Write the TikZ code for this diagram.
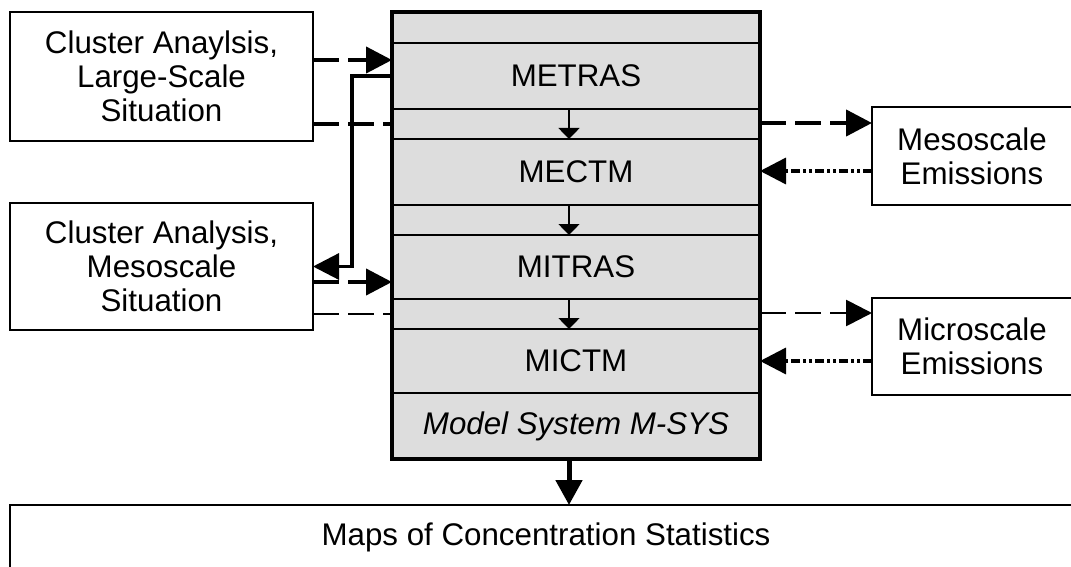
\documentclass[tikz,border=0pt]{standalone}
\usepackage{fontspec}
\setmainfont{Liberation Sans}
\usetikzlibrary{arrows.meta}
\definecolor{boxgray}{RGB}{221,221,221}
\tikzset{
  txt/.style={font=\fontsize{31.3}{34}\selectfont, align=center, inner sep=0pt},
  sidebox/.style={draw, line width=1.7pt, fill=white, outer sep=0pt, inner sep=0pt, font=\fontsize{31.3}{34}\selectfont, align=center},
  rowline/.style={line width=1.4pt},
  bigtip/.style={-{Triangle[length=26pt,width=26pt]}},
  thickdash/.style={line width=4.2pt, dash pattern=on 26pt off 9pt},
  thindash/.style={line width=2.8pt, dash pattern=on 26pt off 9pt},
  dotdash/.style={line width=3.5pt, dash pattern=on 9pt off 3pt on 3pt off 3pt on 3pt off 3pt},
  smallarrow/.style={line width=1.6pt, -{Triangle[length=11pt,width=21pt]}},
}
\begin{document}
\begin{tikzpicture}[x=1pt,y=-1pt]
\useasboundingbox (0,0) rectangle (1071,567);
\clip (0,0) rectangle (1071,567);
\fill[white] (0,0) rectangle (1071,567);
% main system box
\node[draw, line width=3.2pt, fill=boxgray, outer sep=0pt, inner sep=0pt, minimum width=368pt, minimum height=447pt] (sys) at (576,235.5) {};
\foreach \yy in {43,109,139,205,235,299,329}{\draw[rowline] (392,\yy) -- (760,\yy);}
\draw[line width=2.8pt] (392,393) -- (760,393);
\node[txt] (metras) at (576,76) {METRAS};
\node[txt] (mectm) at (576,172) {MECTM};
\node[txt] (mitras) at (576,267) {MITRAS};
\node[txt] (mictm) at (576,361) {MICTM};
\node[txt, font=\fontsize{31.3}{34}\selectfont\itshape] (msys) at (576,426) {Model System M-SYS};
% internal arrows
\coordinate (ax) at (569,0);
\draw[smallarrow] (ax |- 0,109) -- (ax |- 0,139);
\draw[smallarrow] (ax |- 0,205) -- (ax |- 0,235);
\draw[smallarrow] (ax |- 0,299) -- (ax |- 0,329);
% side boxes
\node[sidebox, minimum width=303pt, minimum height=129pt] (lb1) at (161.5,76.5) {Cluster Anaylsis,\\Large-Scale\\Situation};
\node[sidebox, minimum width=303pt, minimum height=127pt] (lb2) at (161.5,266.5) {Cluster Analysis,\\Mesoscale\\Situation};
\node[sidebox, minimum width=200pt, minimum height=98pt] (rb1) at (972,156) {Mesoscale\\Emissions};
\node[sidebox, minimum width=200pt, minimum height=97pt] (rb2) at (972,346.5) {Microscale\\Emissions};
\node[sidebox, line width=2pt, minimum width=1072pt, minimum height=64pt] (maps) at (546,537) {Maps of Concentration Statistics};
% left connectors
\draw[thickdash, bigtip] (lb1.east |- 0,60) -- (sys.west |- 0,60);
\draw[thickdash] (lb1.east |- 0,124) -- (sys.west |- 0,124);
\draw[line width=3.2pt, bigtip] (sys.west |- 0,76) -- (352,76) |- (lb2.east);
\draw[thickdash, bigtip] (lb2.east |- 0,282) -- (sys.west |- 0,282);
\draw[thindash] (lb2.east |- 0,314) -- (sys.west |- 0,314);
% right connectors
\draw[thickdash, bigtip] (sys.east |- 0,123) -- (rb1.west |- 0,123);
\draw[dotdash, bigtip] (rb1.west |- 0,171) -- (sys.east |- 0,171);
\draw[thindash, bigtip] (sys.east |- 0,313) -- (rb2.west |- 0,313);
\draw[dotdash, bigtip] (rb2.west |- 0,361) -- (sys.east |- 0,361);
% bottom arrow
\draw[line width=5pt, -{Triangle[length=25pt,width=26pt]}] (ax |- sys.south) -- (ax |- maps.north);
\end{tikzpicture}
\end{document}
